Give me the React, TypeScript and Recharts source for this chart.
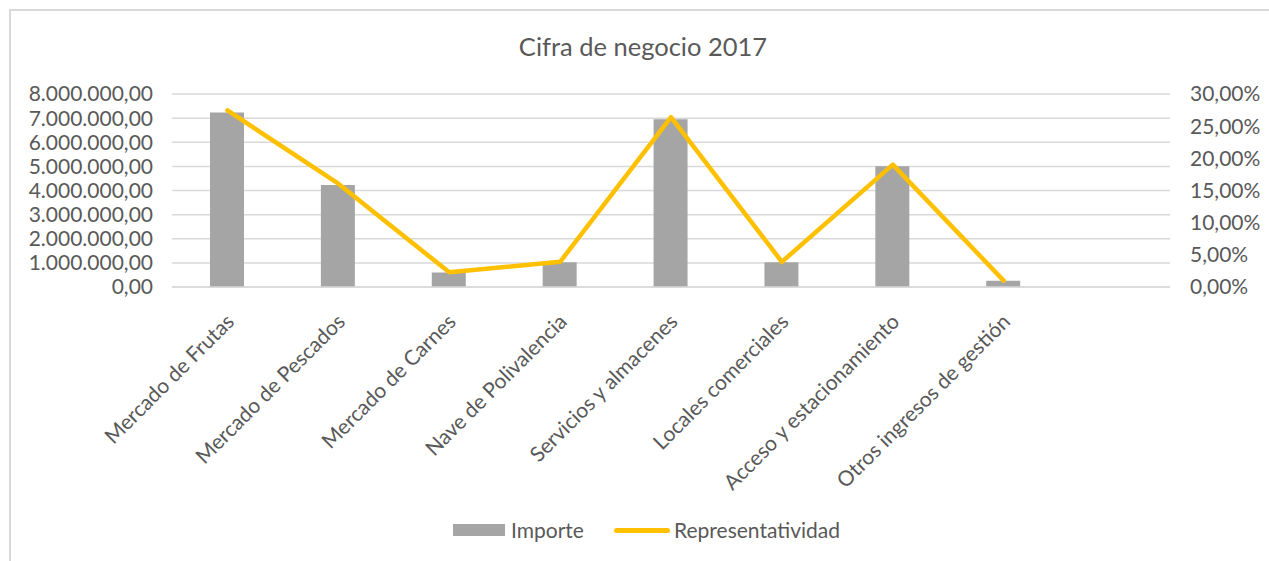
import React from "react";
import {
  ComposedChart,
  Bar,
  Line,
  XAxis,
  YAxis,
  CartesianGrid,
} from "recharts";

const categories = [
  "Mercado de Frutas",
  "Mercado de Pescados",
  "Mercado de Carnes",
  "Nave de Polivalencia",
  "Servicios y almacenes",
  "Locales comerciales",
  "Acceso y estacionamiento",
  "Otros ingresos de gestión",
  "",
];
const importe = [7230000, 4230000, 600000, 1030000, 6950000, 1030000, 5010000, 260000, null];
const representatividad = [27.45, 16.06, 2.28, 3.91, 26.39, 3.91, 19.02, 0.99, null];
const leftTicks = [0, 1000000, 2000000, 3000000, 4000000, 5000000, 6000000, 7000000, 8000000];
const rightTicks = [0, 5, 10, 15, 20, 25, 30];

const data = categories.map((c, i) => ({
  name: c,
  importe: importe[i],
  representatividad: representatividad[i],
}));

const FONT = "Lato, 'Open Sans', sans-serif";
const TEXT = "#595959";
const GRID = "#d9d9d9";
const BAR = "#a5a5a5";
const LINE = "#ffc000";

function fmtNum(n: number): string {
  const fixed = n.toFixed(2);
  const [intPart, dec] = fixed.split(".");
  const withDots = intPart.replace(/\B(?=(\d{3})+(?!\d))/g, ".");
  return withDots + "," + dec;
}

const XTick = (props: any) => {
  const { x, y, payload } = props;
  const tx = x + 8;
  const ty = y + 28;
  return (
    <text
      x={tx}
      y={ty}
      transform={`rotate(-45, ${tx}, ${ty})`}
      textAnchor="end"
      fill={TEXT}
      fontSize={21}
      fontFamily={FONT}
    >
      {payload.value}
    </text>
  );
};

export default function App() {
  return (
    <div style={{ position: "absolute", left: 0, top: 0, width: 1269, height: 561, background: "#fff", overflow: "hidden" }}>
      <div
        style={{
          position: "absolute",
          left: 9,
          top: 9,
          width: 1300,
          height: 600,
          border: `2px solid ${GRID}`,
          boxSizing: "border-box",
        }}
      />
      <div
        style={{
          position: "absolute",
          left: 0,
          width: 1286,
          top: 29,
          textAlign: "center",
          fontFamily: FONT,
          fontSize: 25.5,
          color: TEXT,
          lineHeight: "34px",
        }}
      >
        Cifra de negocio 2017
      </div>
      <div style={{ position: "absolute", left: 0, top: 0 }}>
        <ComposedChart
          width={1269}
          height={561}
          data={data}
          margin={{ top: 94, right: 0, bottom: 74, left: 0 }}
        >
          <CartesianGrid yAxisId="left" vertical={false} stroke={GRID} strokeWidth={1.5} />
          <XAxis
            dataKey="name"
            interval={0}
            height={200}
            tickLine={false}
            axisLine={{ stroke: GRID, strokeWidth: 1.5 }}
            tick={<XTick />}
          />
          <YAxis
            yAxisId="left"
            orientation="left"
            width={172}
            domain={[0, 8000000]}
            ticks={leftTicks}
            interval={0}
            tickFormatter={fmtNum}
            axisLine={false}
            tickLine={false}
            tickSize={0}
            tickMargin={19}
            tick={{ fill: TEXT, fontSize: 21, fontFamily: FONT }}
          />
          <YAxis
            yAxisId="right"
            orientation="right"
            width={99}
            domain={[0, 30]}
            ticks={rightTicks}
            interval={0}
            tickFormatter={(v: number) => v.toFixed(2).replace(".", ",") + "%"}
            axisLine={false}
            tickLine={false}
            tickSize={0}
            tickMargin={20}
            tick={{ fill: TEXT, fontSize: 21, fontFamily: FONT, textAnchor: "start" }}
          />
          <Bar yAxisId="left" dataKey="importe" fill={BAR} barSize={34} isAnimationActive={false} />
          <Line
            yAxisId="right"
            dataKey="representatividad"
            stroke={LINE}
            strokeWidth={4.5}
            strokeLinecap="round"
            strokeLinejoin="round"
            dot={false}
            activeDot={false}
            isAnimationActive={false}
          />
        </ComposedChart>
      </div>
      <div
        style={{
          position: "absolute",
          left: 0,
          top: 517,
          height: 28,
          width: 1269,
          fontFamily: FONT,
          fontSize: 21,
          color: TEXT,
        }}
      >
        <div style={{ position: "absolute", left: 453, top: 7, width: 52, height: 12, background: BAR }} />
        <div style={{ position: "absolute", left: 511, top: 0, lineHeight: "26px" }}>Importe</div>
        <div style={{ position: "absolute", left: 614, top: 11, width: 56, height: 5, borderRadius: 3, background: LINE }} />
        <div style={{ position: "absolute", left: 674, top: 0, lineHeight: "26px" }}>Representatividad</div>
      </div>
    </div>
  );
}
